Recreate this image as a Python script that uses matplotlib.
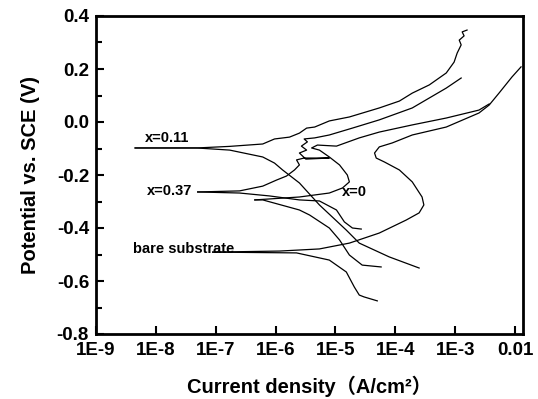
import matplotlib
matplotlib.use('Agg')
import matplotlib.pyplot as plt
from matplotlib.ticker import MultipleLocator, NullLocator

plt.rcParams['font.family'] = ['Liberation Sans', 'Noto Sans CJK SC', 'DejaVu Sans']
plt.rcParams['axes.unicode_minus'] = False

# ---- data: current density (A/cm2) and potential (V vs SCE) ----
x011_an_i = [4.5e-9, 4.8e-8, 1.71e-7, 6.1e-7, 9.6e-7, 1.71e-6, 2.5e-6, 3.3e-6, 4.5e-6, 7.9e-6,
             1.71e-5, 5.4e-5, 1.17e-4, 1.92e-4, 3.7e-4, 7.1e-4, 9.6e-4, 1.08e-3, 1.26e-3, 1.17e-3,
             1.41e-3, 1.31e-3, 1.58e-3]
x011_an_e = [-0.098, -0.098, -0.092, -0.083, -0.064, -0.057, -0.042, -0.023, -0.019, 0.004,
             0.019, 0.053, 0.079, 0.109, 0.140, 0.185, 0.226, 0.260, 0.291, 0.309,
             0.325, 0.340, 0.347]
x011_ca_i = [4.5e-9, 4.8e-8, 1.71e-7, 6.1e-7, 9.6e-7, 1.31e-6, 2.5e-6, 5.4e-6, 1.52e-5, 2.5e-5, 7.9e-5, 2.5e-4]
x011_ca_e = [-0.098, -0.098, -0.106, -0.132, -0.155, -0.181, -0.230, -0.313, -0.408, -0.457, -0.509, -0.551]

x037_an_i = [5.0e-8, 2.5e-7, 6.1e-7, 1.04e-6, 1.52e-6, 2.07e-6, 2.5e-6, 2.24e-6, 3.0e-6, 7.9e-6,
             3.2e-6, 2.5e-6, 3.3e-6, 2.7e-6, 3.4e-6, 3.0e-6, 4.5e-6, 7.9e-6, 1.92e-5, 5.4e-5,
             1.92e-4, 7.1e-4, 1.26e-3]
x037_an_e = [-0.264, -0.260, -0.242, -0.219, -0.204, -0.181, -0.162, -0.143, -0.136, -0.136,
             -0.140, -0.117, -0.106, -0.091, -0.075, -0.064, -0.060, -0.049, -0.023, 0.008,
             0.053, 0.128, 0.166]
x037_ca_i = [5.0e-8, 2.5e-7, 7.9e-7, 2.5e-6, 5.4e-6, 1.04e-5, 1.41e-5, 1.92e-5, 2.7e-5]
x037_ca_e = [-0.264, -0.268, -0.279, -0.294, -0.298, -0.332, -0.377, -0.400, -0.404]

x0_an_i = [4.5e-7, 2.5e-6, 7.9e-6, 1.31e-5, 1.71e-5, 1.58e-5, 1.17e-5, 7.9e-6, 5.4e-6, 4.0e-6,
           5.0e-6, 1.04e-5, 2.5e-5, 5.4e-5, 1.92e-4, 7.1e-4, 2.5e-3, 3.7e-3]
x0_an_e = [-0.294, -0.283, -0.268, -0.249, -0.226, -0.200, -0.162, -0.132, -0.106, -0.098,
           -0.087, -0.091, -0.060, -0.038, -0.011, 0.015, 0.045, 0.068]
x0_ca_i = [4.5e-7, 6.1e-7, 2.5e-6, 3.7e-6, 7.9e-6, 1.17e-5, 1.71e-5, 2.8e-5, 5.8e-5]
x0_ca_e = [-0.294, -0.294, -0.332, -0.351, -0.400, -0.445, -0.502, -0.540, -0.547]

bare_an_i = [8.9e-8, 1.17e-6, 5.4e-6, 1.71e-5, 5.4e-5, 1.52e-4, 2.5e-4, 3.0e-4, 2.8e-4, 1.92e-4,
             1.17e-4, 6.6e-5, 4.8e-5, 4.5e-5, 5.4e-5, 8.9e-5, 1.92e-4, 7.1e-4, 2.5e-3, 3.7e-3,
             5.4e-3, 8.9e-3, 1.26e-2]
bare_an_e = [-0.491, -0.487, -0.479, -0.457, -0.419, -0.370, -0.343, -0.313, -0.283, -0.226,
             -0.181, -0.151, -0.136, -0.117, -0.094, -0.079, -0.049, -0.019, 0.034, 0.064,
             0.109, 0.170, 0.208]
bare_ca_i = [8.9e-8, 2.24e-6, 7.9e-6, 1.52e-5, 2.07e-5, 2.5e-5, 3.0e-5, 5.0e-5]
bare_ca_e = [-0.491, -0.494, -0.521, -0.566, -0.623, -0.653, -0.660, -0.675]

labels = ["x=0.11", "x=0.37", "bare substrate", "x=0"]
label_i = [1.55e-8, 1.71e-8, 2.93e-8, 2.07e-5]
label_e = [-0.060, -0.260, -0.479, -0.264]

xtick_vals = [1e-9, 1e-8, 1e-7, 1e-6, 1e-5, 1e-4, 1e-3, 1e-2]
xtick_labels = ["1E-9", "1E-8", "1E-7", "1E-6", "1E-5", "1E-4", "1E-3", "0.01"]
ytick_vals = [-0.8, -0.6, -0.4, -0.2, 0.0, 0.2, 0.4]
ytick_labels = ["-0.8", "-0.6", "-0.4", "-0.2", "0.0", "0.2", "0.4"]

fig = plt.figure(figsize=(5.38, 3.99), dpi=100)
ax = fig.add_axes([96/538, 1-334/399, (523-96)/538, (334-16)/399])

lw = 0.9
for xi, ye in [(x011_an_i, x011_an_e), (x011_ca_i, x011_ca_e),
               (x037_an_i, x037_an_e), (x037_ca_i, x037_ca_e),
               (x0_an_i, x0_an_e), (x0_ca_i, x0_ca_e),
               (bare_an_i, bare_an_e), (bare_ca_i, bare_ca_e)]:
    ax.plot(xi, ye, color='black', lw=lw)

for t, xi, ye in zip(labels, label_i, label_e):
    ax.text(xi, ye, t, ha='center', va='center', fontsize=10.5, fontweight='bold')

ax.set_xscale('log')
ax.set_xlim(1e-9, 10**(-2 + 8/60))
ax.set_ylim(-0.8, 0.4)
ax.set_xticks(xtick_vals)
ax.set_xticklabels(xtick_labels)
ax.xaxis.set_minor_locator(NullLocator())
ax.set_yticks(ytick_vals)
ax.set_yticklabels(ytick_labels)
ax.yaxis.set_minor_locator(MultipleLocator(0.1))

ax.tick_params(axis='both', which='major', direction='in', length=6, width=1.5,
               labelsize=13.5)
ax.tick_params(axis='x', which='major', pad=6)
ax.tick_params(axis='y', which='major', pad=5)
ax.tick_params(axis='y', which='minor', direction='in', length=4, width=1.5)
for lab in ax.get_xticklabels() + ax.get_yticklabels():
    lab.set_fontweight('bold')
for s in ax.spines.values():
    s.set_linewidth(2)

ax.set_xlabel("Current density（A/cm²）", fontsize=14.5, fontweight='bold', labelpad=12)
ax.set_ylabel("Potential vs. SCE (V)", fontsize=14.5, fontweight='bold', labelpad=12)

fig.savefig("out.png", dpi=100)
